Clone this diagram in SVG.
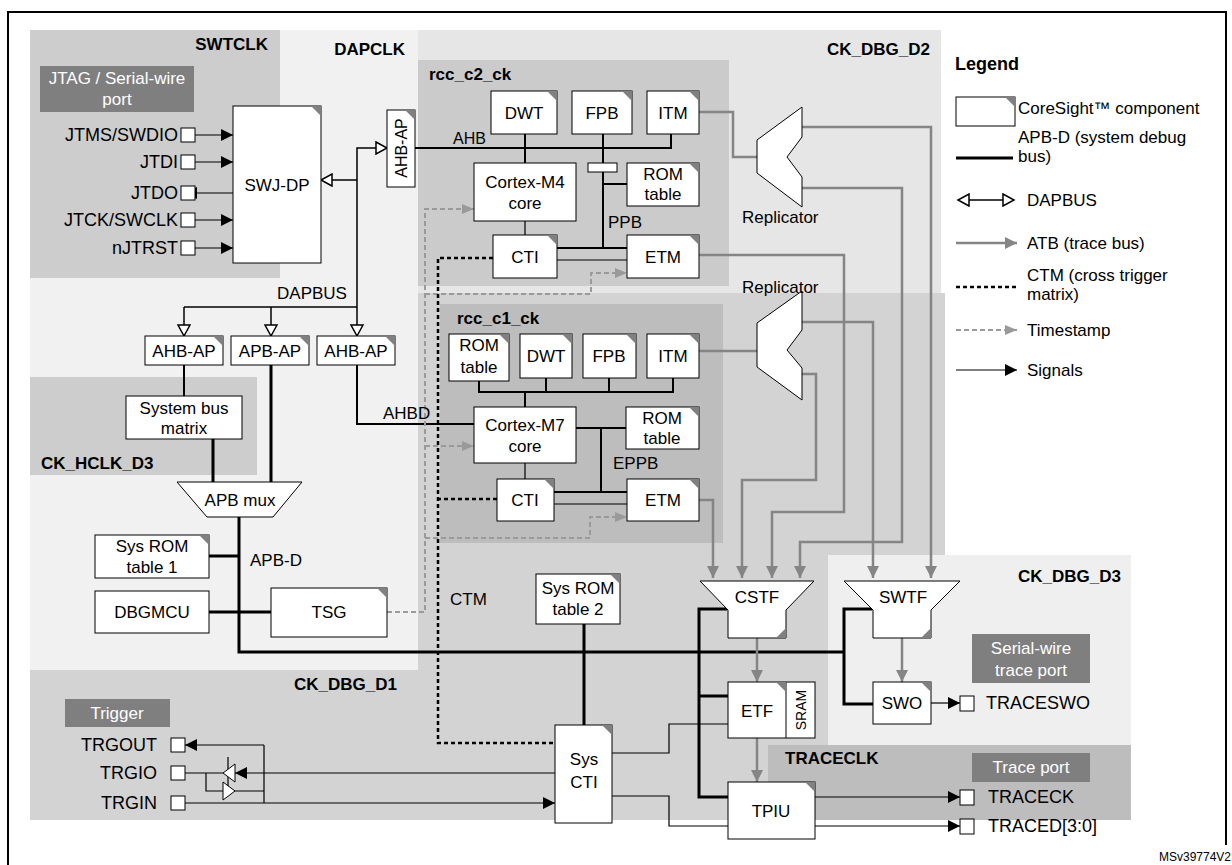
<svg xmlns="http://www.w3.org/2000/svg" width="1232" height="865" viewBox="0 0 1232 865">
<style>
text{font-family:"Liberation Sans",Arial,sans-serif;font-size:17px;fill:#000}
.b{font-weight:bold;font-size:17px}
.m{text-anchor:middle}
.e{text-anchor:end}
.w{fill:#fff}
.p{font-size:18px}
.c{fill:#fff;stroke:#000;stroke-width:1}
.k{fill:#808080}
.t{fill:none;stroke:#000;stroke-width:1.2}
.bus{fill:none;stroke:#000;stroke-width:3}
.ahb{fill:none;stroke:#000;stroke-width:2}
.atb{fill:none;stroke:#858585;stroke-width:2.5}
.ts{fill:none;stroke:#9a9a9a;stroke-width:2;stroke-dasharray:5 3}
.ctm{fill:none;stroke:#000;stroke-width:2.5;stroke-dasharray:4 3}
.dap{fill:none;stroke:#000;stroke-width:1.5}
</style>
<defs>
<marker id="fa" markerUnits="userSpaceOnUse" markerWidth="12" markerHeight="12" refX="12" refY="6" orient="auto"><path d="M0,0 L12,6 L0,12 Z" fill="#000"/></marker>
<marker id="ga" markerUnits="userSpaceOnUse" markerWidth="12" markerHeight="12" refX="12" refY="6" orient="auto"><path d="M0,0 L12,6 L0,12 Z" fill="#858585"/></marker>
<marker id="ta" markerUnits="userSpaceOnUse" markerWidth="12" markerHeight="12" refX="12" refY="6" orient="auto"><path d="M0,1 L12,6 L0,11 Z" fill="#9a9a9a"/></marker>
<marker id="ho" markerUnits="userSpaceOnUse" markerWidth="14" markerHeight="14" refX="12" refY="7" orient="auto"><path d="M1,1 L12,7 L1,13 Z" fill="#fff" stroke="#000" stroke-width="1.5"/></marker>
<marker id="hs" markerUnits="userSpaceOnUse" markerWidth="14" markerHeight="14" refX="12" refY="7" orient="auto-start-reverse"><path d="M1,1 L12,7 L1,13 Z" fill="#fff" stroke="#000" stroke-width="1.5"/></marker>
</defs>

<path d="M8 865 V12 H1226 V845" fill="none" stroke="#000" stroke-width="2"/>

<g id="regions">
<rect x="30" y="293" width="915" height="527" fill="#d3d3d3"/>
<rect x="30" y="30" width="388" height="640" fill="#f1f1f1"/>
<rect x="418" y="30" width="523" height="263" fill="#e6e6e6"/>
<rect x="30" y="30" width="250" height="248" fill="#cdcdcd"/>
<rect x="30" y="377" width="227" height="98" fill="#cdcdcd"/>
<rect x="418" y="60" width="311" height="226" fill="#cbcbcb"/>
<rect x="440" y="304" width="283" height="239" fill="#bdbdbd"/>
<rect x="828" y="555" width="303" height="190" fill="#efefef"/>
<rect x="768" y="745" width="363" height="75" fill="#bdbdbd"/>
<text class="b e" x="268" y="50">SWTCLK</text>
<text class="b e" x="405" y="55">DAPCLK</text>
<text class="b e" x="930" y="55">CK_DBG_D2</text>
<text class="b" x="429" y="80">rcc_c2_ck</text>
<text class="b" x="457" y="324">rcc_c1_ck</text>
<text class="b" x="41" y="469">CK_HCLK_D3</text>
<text class="b" x="294" y="690">CK_DBG_D1</text>
<text class="b e" x="1121" y="582">CK_DBG_D3</text>
<text class="b" x="785" y="764">TRACECLK</text>
<rect x="40" y="66" width="154" height="46" fill="#7f7f7f"/>
<text class="w m" x="117" y="84">JTAG / Serial-wire</text>
<text class="w m" x="117" y="105">port</text>
<rect x="65" y="699" width="105" height="28" fill="#7f7f7f"/>
<text class="w m" x="117" y="719">Trigger</text>
<rect x="972" y="634" width="118" height="49" fill="#7f7f7f"/>
<text class="w m" x="1031" y="654">Serial-wire</text>
<text class="w m" x="1031" y="676">trace port</text>
<rect x="972" y="753" width="118" height="29" fill="#7f7f7f"/>
<text class="w m" x="1031" y="773">Trace port</text>
</g>

<g id="connectors">
<path class="t" d="M195 135 H233" marker-end="url(#fa)"/>
<path class="t" d="M195 162 H233" marker-end="url(#fa)"/>
<path class="t" d="M233 193 H185" marker-end="url(#fa)"/>
<path class="t" d="M195 220 H233" marker-end="url(#fa)"/>
<path class="t" d="M195 248 H233" marker-end="url(#fa)"/>
<path class="dap" d="M357 307 V148 H387" marker-end="url(#ho)"/>
<path class="dap" d="M357 180 H321" marker-end="url(#ho)"/>
<path class="dap" d="M184 307 H357"/>
<path class="dap" d="M184 307 V336" marker-end="url(#ho)"/>
<path class="dap" d="M271 307 V336" marker-end="url(#ho)"/>
<path class="dap" d="M357 307 V336" marker-end="url(#ho)"/>
<path class="ahb" d="M415 148 H671 V134 M525 134 V163 M603 134 V248 M557 248 H627 M603 184 H627"/>
<path class="t" d="M525 221 V235 M557 260 H627"/>
<path class="ahb" d="M357 365 V424 H474"/>
<path class="ahb" d="M184 365 V396"/>
<path class="bus" d="M271 365 V482 M213 439 V482"/>
<path class="bus" d="M239 517 V652 H844 M209 556 H239 M209 612 H271 M584 624 V725"/>
<path class="bus" d="M727 609 H699 V797 H728 M699 696 H728 M872 609 H844 V704 H873"/>
<path class="ahb" d="M479 381 V392 H673 V378 M546 378 V392 M609 378 V392 M525 392 V407 M576 428 H626 M601 428 V492 M554 492 H627"/>
<path class="t" d="M554 504 H627 M525 463 V479"/>
<path class="atb" d="M699 112 H733 V157 H757 M699 351 H757"/>
<path class="atb" d="M802 127 H931 V578" marker-end="url(#ga)"/>
<path class="atb" d="M802 188 H902 V542 H800 V578" marker-end="url(#ga)"/>
<path class="atb" d="M699 255 H844 V512 H772 V578" marker-end="url(#ga)"/>
<path class="atb" d="M802 322 H873 V578" marker-end="url(#ga)"/>
<path class="atb" d="M802 374 H816 V480 H742 V578" marker-end="url(#ga)"/>
<path class="atb" d="M699 500 H713 V578" marker-end="url(#ga)"/>
<path class="atb" d="M757 638 V682" marker-end="url(#ga)"/>
<path class="atb" d="M757 738 V782" marker-end="url(#ga)"/>
<path class="atb" d="M902 638 V682" marker-end="url(#ga)"/>
<path class="ts" d="M387 612 H425 V209 H474" marker-end="url(#ta)"/>
<path class="ts" d="M425 294 H591 V273 H627" marker-end="url(#ta)"/>
<path class="ts" d="M425 446 H474" marker-end="url(#ta)"/>
<path class="ts" d="M425 538 H590 V517 H627" marker-end="url(#ta)"/>
<path class="ctm" d="M493 258 H438 V743 H555 M497 499 H438"/>
<path class="t" d="M612 753 H669 V724 H728 M612 796 H669 V826 H728"/>
<path class="t" d="M815 797 H960" marker-end="url(#fa)"/>
<path class="t" d="M815 826 H960" marker-end="url(#fa)"/>
<path class="t" d="M931 703 H960" marker-end="url(#fa)"/>
<path class="t" d="M264 745 H185" marker-end="url(#fa)"/>
<path class="t" d="M264 745 V803 M185 773 H223 M206 773 V791 H223 M234 791 H264 M228 757 V795"/>
<path class="t" d="M555 773 H235" marker-end="url(#fa)"/>
<path class="t" d="M185 803 H555" marker-end="url(#fa)"/>
<path d="M223 773 L235 764 L235 782 Z M235 791 L223 782 L223 800 Z" fill="#fff" stroke="#000" stroke-width="1"/>
<rect x="588" y="163" width="29" height="9" class="c"/>
</g>

<g id="pins" fill="#fff" stroke="#000" stroke-width="1">
<rect x="181" y="128" width="14" height="14"/>
<rect x="181" y="155" width="14" height="14"/>
<rect x="181" y="186" width="14" height="14"/>
<rect x="181" y="213" width="14" height="14"/>
<rect x="181" y="241" width="14" height="14"/>
<rect x="171" y="738" width="14" height="14"/>
<rect x="171" y="766" width="14" height="14"/>
<rect x="171" y="796" width="14" height="14"/>
<rect x="960" y="696" width="14" height="15"/>
<rect x="960" y="790" width="14" height="15"/>
<rect x="960" y="819" width="14" height="15"/>
</g>
<g id="pinlabels">
<text class="e p" x="178" y="141">JTMS/SWDIO</text>
<text class="e p" x="178" y="168">JTDI</text>
<text class="e p" x="178" y="199">JTDO</text>
<text class="e p" x="178" y="226">JTCK/SWCLK</text>
<text class="e p" x="178" y="254">nJTRST</text>
<text class="e p" x="157" y="751">TRGOUT</text>
<text class="e p" x="157" y="779">TRGIO</text>
<text class="e p" x="157" y="809">TRGIN</text>
<text class="p" x="986" y="709">TRACESWO</text>
<text class="p" x="988" y="803">TRACECK</text>
<text class="p" x="988" y="832">TRACED[3:0]</text>
<text x="453" y="144" style="font-size:16px">AHB</text>
<text x="383" y="419">AHBD</text>
<text x="312" y="299" class="m">DAPBUS</text>
<text x="250" y="566">APB-D</text>
<text x="450" y="605">CTM</text>
<text x="608" y="228">PPB</text>
<text x="613" y="469">EPPB</text>
<text class="e" x="1231" y="861" style="font-size:12px">MSv39774V2</text>
</g>

<g id="swjdp"><rect class="c" x="233" y="106" width="88" height="157"/><path class="k" d="M311 106 H321 V116 Z"/><text class="m" x="277" y="191">SWJ-DP</text></g>
<g id="ahbap-top"><rect class="c" x="387" y="110" width="28" height="77"/><path class="k" d="M405 110 H415 V120 Z"/><text class="m" transform="translate(407 148) rotate(-90)" style="font-size:16px">AHB-AP</text></g>
<g id="ahbap1"><rect class="c" x="145" y="336" width="78" height="29"/><path class="k" d="M213 336 H223 V346 Z"/><text class="m" x="184" y="357">AHB-AP</text></g>
<g id="apbap"><rect class="c" x="231" y="336" width="78" height="29"/><path class="k" d="M299 336 H309 V346 Z"/><text class="m" x="270" y="357">APB-AP</text></g>
<g id="ahbap2"><rect class="c" x="317" y="336" width="78" height="29"/><path class="k" d="M385 336 H395 V346 Z"/><text class="m" x="356" y="357">AHB-AP</text></g>
<g id="sysbus"><rect class="c" x="126" y="396" width="116" height="43"/><text class="m" x="184" y="414">System bus</text><text class="m" x="184" y="434">matrix</text></g>
<g id="apbmux"><path class="c" d="M177 482 H302 L273 517 H207 Z"/><text class="m" x="240" y="506">APB mux</text></g>
<g id="sysrom1"><rect class="c" x="95" y="535" width="114" height="43"/><path class="k" d="M199 535 H209 V545 Z"/><text class="m" x="152" y="552">Sys ROM</text><text class="m" x="152" y="573">table 1</text></g>
<g id="dbgmcu"><rect class="c" x="95" y="591" width="114" height="42"/><text class="m" x="152" y="618">DBGMCU</text></g>
<g id="tsg"><rect class="c" x="271" y="588" width="116" height="49"/><path class="k" d="M377 588 H387 V598 Z"/><text class="m" x="329" y="618">TSG</text></g>
<g id="dwt2"><rect class="c" x="491" y="91" width="66" height="43"/><path class="k" d="M547 91 H557 V101 Z"/><text class="m" x="524" y="119">DWT</text></g>
<g id="fpb2"><rect class="c" x="572" y="91" width="60" height="43"/><path class="k" d="M622 91 H632 V101 Z"/><text class="m" x="602" y="119">FPB</text></g>
<g id="itm2"><rect class="c" x="647" y="91" width="52" height="43"/><path class="k" d="M689 91 H699 V101 Z"/><text class="m" x="673" y="119">ITM</text></g>
<g id="m4"><rect class="c" x="474" y="163" width="102" height="58"/><text class="m" x="525" y="188">Cortex-M4</text><text class="m" x="525" y="209">core</text></g>
<g id="rom2"><rect class="c" x="627" y="163" width="72" height="43"/><path class="k" d="M689 163 H699 V173 Z"/><text class="m" x="663" y="180">ROM</text><text class="m" x="663" y="200">table</text></g>
<g id="cti2"><rect class="c" x="493" y="235" width="64" height="43"/><path class="k" d="M547 235 H557 V245 Z"/><text class="m" x="525" y="263">CTI</text></g>
<g id="etm2"><rect class="c" x="627" y="235" width="72" height="43"/><path class="k" d="M689 235 H699 V245 Z"/><text class="m" x="663" y="263">ETM</text></g>
<g id="rom1a"><rect class="c" x="449" y="334" width="60" height="47"/><path class="k" d="M499 334 H509 V344 Z"/><text class="m" x="479" y="351">ROM</text><text class="m" x="479" y="373">table</text></g>
<g id="dwt1"><rect class="c" x="520" y="334" width="52" height="44"/><path class="k" d="M562 334 H572 V344 Z"/><text class="m" x="546" y="362">DWT</text></g>
<g id="fpb1"><rect class="c" x="583" y="334" width="53" height="44"/><path class="k" d="M626 334 H636 V344 Z"/><text class="m" x="609" y="362">FPB</text></g>
<g id="itm1"><rect class="c" x="647" y="334" width="52" height="44"/><path class="k" d="M689 334 H699 V344 Z"/><text class="m" x="673" y="362">ITM</text></g>
<g id="m7"><rect class="c" x="474" y="407" width="102" height="56"/><text class="m" x="525" y="431">Cortex-M7</text><text class="m" x="525" y="452">core</text></g>
<g id="rom1b"><rect class="c" x="626" y="407" width="73" height="42"/><path class="k" d="M689 407 H699 V417 Z"/><text class="m" x="662" y="424">ROM</text><text class="m" x="662" y="444">table</text></g>
<g id="cti1"><rect class="c" x="497" y="479" width="57" height="42"/><path class="k" d="M544 479 H554 V489 Z"/><text class="m" x="525" y="506">CTI</text></g>
<g id="etm1"><rect class="c" x="627" y="479" width="72" height="42"/><path class="k" d="M689 479 H699 V489 Z"/><text class="m" x="663" y="506">ETM</text></g>
<g id="rep1"><path class="c" d="M802 107 L757 140 L757 173 L802 207 L802 177 L787 157 L802 137 Z"/><text x="742" y="223">Replicator</text></g>
<g id="rep2"><path class="c" d="M802 291 L757 323 L757 367 L802 400 L802 368 L787 350 L802 330 Z"/><text x="742" y="293">Replicator</text></g>
<g id="sysrom2"><rect class="c" x="536" y="574" width="84" height="50"/><path class="k" d="M610 574 H620 V584 Z"/><text class="m" x="578" y="594">Sys ROM</text><text class="m" x="578" y="615">table 2</text></g>
<g id="systi"><rect class="c" x="555" y="725" width="57" height="98"/><path class="k" d="M602 725 H612 V735 Z"/><text class="m" x="584" y="765">Sys</text><text class="m" x="584" y="788">CTI</text></g>
<g id="cstf"><path class="c" d="M700 581 H814 L786 610 V638 H728 V610 Z"/><path class="k" d="M786 628 V638 H776 Z"/><text class="m" x="757" y="603">CSTF</text></g>
<g id="swtf"><path class="c" d="M844 581 H960 L931 610 V638 H873 V610 Z"/><path class="k" d="M931 628 V638 H921 Z"/><text class="m" x="903" y="603">SWTF</text></g>
<g id="etf"><rect class="c" x="728" y="682" width="87" height="56"/><line x1="786" y1="682" x2="786" y2="738" stroke="#000"/><path class="k" d="M776 682 H786 V692 Z"/><text class="m" x="757" y="717">ETF</text><text class="m" transform="translate(806 710) rotate(-90)" style="font-size:14px">SRAM</text></g>
<g id="swo"><rect class="c" x="873" y="682" width="58" height="42"/><path class="k" d="M921 682 H931 V692 Z"/><text class="m" x="902" y="709">SWO</text></g>
<g id="tpiu"><rect class="c" x="728" y="782" width="87" height="57"/><path class="k" d="M805 782 H815 V792 Z"/><text class="m" x="771" y="817">TPIU</text></g>

<g id="legend">
<text class="b" x="955" y="70" style="font-size:18px">Legend</text>
<rect class="c" x="956" y="97" width="59" height="29"/><path class="k" d="M1005 97 H1015 V107 Z"/>
<text x="1018" y="114">CoreSight™ component</text>
<path class="bus" d="M956 158 H1013"/>
<text x="1018" y="143">APB-D (system debug</text><text x="1018" y="162">bus)</text>
<path class="dap" d="M958 200 H1014" marker-start="url(#hs)" marker-end="url(#hs)"/>
<text x="1027" y="206">DAPBUS</text>
<path class="atb" d="M956 243 H1017" marker-end="url(#ga)"/>
<text x="1027" y="249">ATB (trace bus)</text>
<path class="ctm" d="M956 287 H1017"/>
<text x="1027" y="281">CTM (cross trigger</text><text x="1027" y="300">matrix)</text>
<path class="ts" d="M956 330 H1017" marker-end="url(#ta)"/>
<text x="1027" y="336">Timestamp</text>
<path class="t" d="M956 370 H1017" marker-end="url(#fa)"/>
<text x="1027" y="376">Signals</text>
</g>
</svg>
